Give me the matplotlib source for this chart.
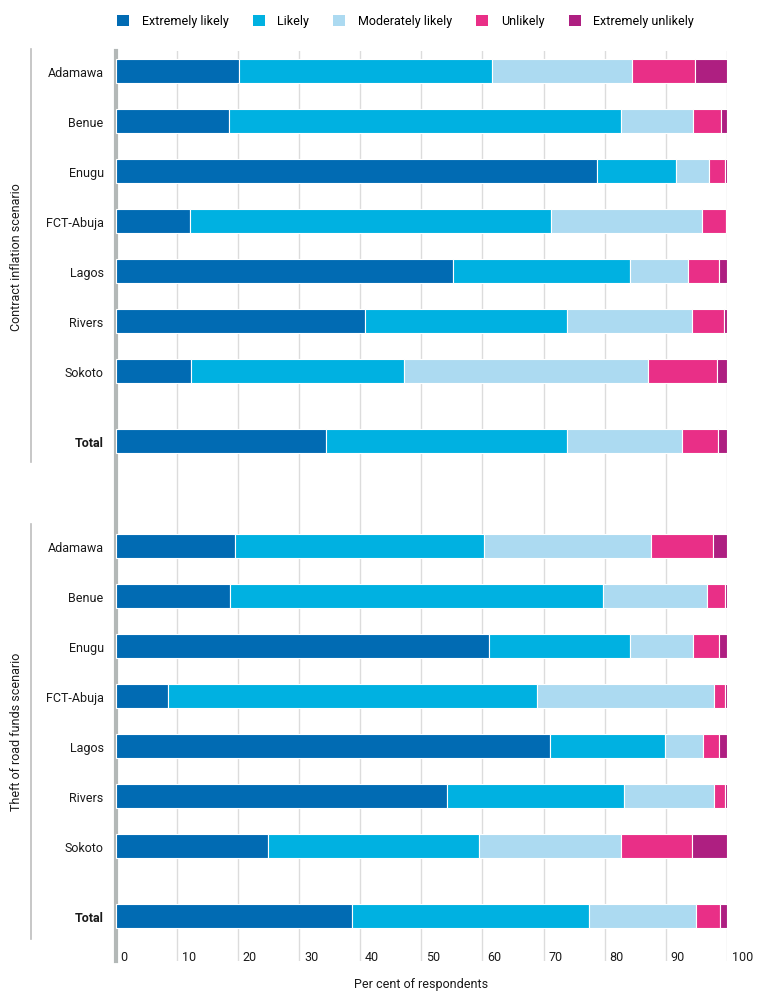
import numpy as np
import matplotlib
matplotlib.use('Agg')
import matplotlib.pyplot as plt
import matplotlib.transforms as mtransforms
from matplotlib.patches import Patch

plt.rcParams['font.family'] = ['Roboto', 'DejaVu Sans']

categories = ['Extremely likely', 'Likely', 'Moderately likely', 'Unlikely', 'Extremely unlikely']
colors = ['#016bb3', '#00b1e1', '#acdaf1', '#e92f87', '#ae1f81']

regions = ['Adamawa', 'Benue', 'Enugu', 'FCT-Abuja', 'Lagos', 'Rivers', 'Sokoto', 'Total']

# contract inflation scenario, per cent per category
inflation_el = [20.2, 18.6, 78.8, 12.2, 55.2, 40.8, 12.4, 34.5]
inflation_l = [41.3, 64.0, 12.9, 59.1, 28.9, 33.1, 34.7, 39.4]
inflation_ml = [23.0, 11.9, 5.3, 24.6, 9.6, 20.4, 40.0, 18.7]
inflation_u = [10.2, 4.6, 2.6, 3.9, 5.0, 5.2, 11.3, 5.9]
inflation_eu = [5.3, 0.9, 0.4, 0.2, 1.3, 0.5, 1.6, 1.5]

# theft of road funds scenario
theft_el = [19.5, 18.7, 61.0, 8.6, 71.1, 54.2, 24.9, 38.6]
theft_l = [40.7, 61.1, 23.2, 60.4, 18.8, 29.0, 34.6, 38.9]
theft_ml = [27.3, 17.0, 10.3, 28.8, 6.1, 14.6, 23.1, 17.4]
theft_u = [10.2, 2.8, 4.2, 1.8, 2.7, 1.8, 11.6, 4.0]
theft_eu = [2.3, 0.4, 1.3, 0.4, 1.3, 0.4, 5.8, 1.1]

groups = ['Contract inflation scenario', 'Theft of road funds scenario']
ticks = [0, 10, 20, 30, 40, 50, 60, 70, 80, 90, 100]

fig = plt.figure(figsize=(7.64, 10.04), dpi=100)
ax = fig.add_axes([115.5 / 764, 42 / 1004, 611.5 / 764, 910 / 1004])

# row positions: 7 regions, a gap, then the total
rows = np.array([0, 1, 2, 3, 4, 5, 6, 7.4])
offsets = [0, 9.5]
datasets = [
    [inflation_el, inflation_l, inflation_ml, inflation_u, inflation_eu],
    [theft_el, theft_l, theft_ml, theft_u, theft_eu],
]

ytick_pos = []
ytick_lab = []
for off, data in zip(offsets, datasets):
    y = rows + off
    left = np.zeros(len(regions))
    for vals, col in zip(data, colors):
        ax.barh(y, vals, left=left, height=0.48, color=col, edgecolor='white',
                linewidth=0.8, zorder=3)
        left += np.array(vals)
    ytick_pos.extend(y)
    ytick_lab.extend(regions)

ax.set_xlim(0, 100)
ax.set_ylim(17.8, -0.4)
ax.set_yticks(ytick_pos)
ax.set_yticklabels(ytick_lab, fontsize=9, color='#1a1a1a')
for lab in ax.get_yticklabels():
    if lab.get_text() == 'Total':
        lab.set_fontweight('bold')
ax.tick_params(axis='y', length=0, pad=8.5)

ax.set_xticks(ticks)
ax.set_xticklabels([str(t) for t in ticks], fontsize=9, color='#1a1a1a')
ax.tick_params(axis='x', length=0, pad=-8)
shift = mtransforms.ScaledTranslation(5 / 100, 0, fig.dpi_scale_trans)
for lab in ax.get_xticklabels():
    lab.set_horizontalalignment('left')
    lab.set_transform(lab.get_transform() + shift)

ax.grid(axis='x', color='#dcdcdc', linewidth=1, zorder=0)
ax.set_axisbelow(True)
for s in ['top', 'right', 'bottom']:
    ax.spines[s].set_visible(False)
ax.spines['left'].set_color('#b3b8b7')
ax.spines['left'].set_linewidth(3)
ax.spines['left'].set_zorder(2)

ax.set_xlabel('Per cent of respondents', fontsize=9, color='#1a1a1a', labelpad=10.5)

# group brackets and labels
line_x = 31 / 764
fig.add_artist(plt.Line2D([line_x, line_x], [1 - 50 / 1004, 1 - 463 / 1004],
                          color='#bdbdbd', linewidth=1.2))
fig.add_artist(plt.Line2D([line_x, line_x], [1 - 525 / 1004, 1 - 940 / 1004],
                          color='#bdbdbd', linewidth=1.2))
fig.text(16.5 / 764, 1 - 257 / 1004, groups[0], rotation=90, ha='center', va='center',
         fontsize=9, color='#1a1a1a')
fig.text(16.5 / 764, 1 - 732 / 1004, groups[1], rotation=90, ha='center', va='center',
         fontsize=9, color='#1a1a1a')

handles = [Patch(facecolor=c, edgecolor='none', label=l) for c, l in zip(colors, categories)]
fig.legend(handles=handles, loc='center left', bbox_to_anchor=(117 / 764, 1 - 22 / 1004),
           ncol=5, frameon=False, fontsize=9, handlelength=0.96, handleheight=0.93,
           handletextpad=1.0, columnspacing=1.95, borderaxespad=0, borderpad=0)

fig.savefig('out.png', dpi=100)
